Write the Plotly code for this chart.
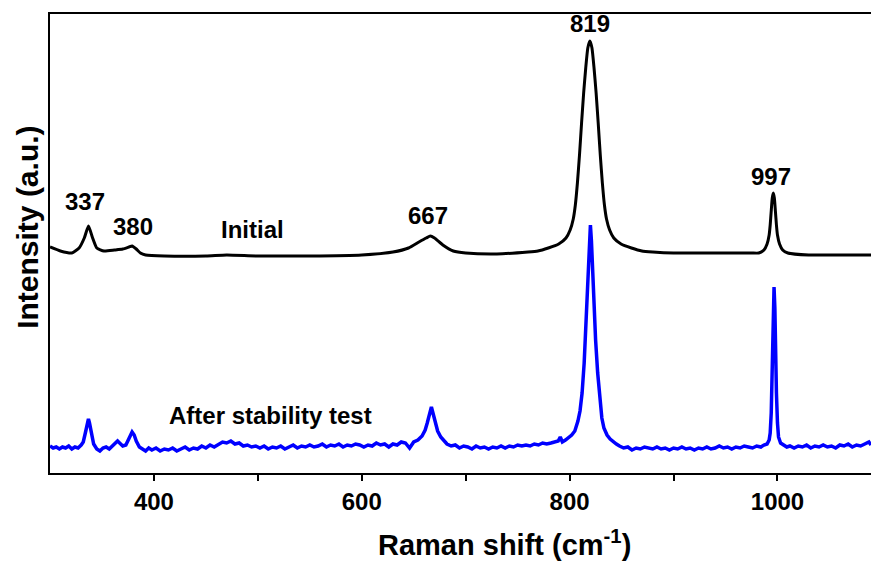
import plotly.graph_objects as go

# ---- Data (Raman shift in cm^-1, intensity in arbitrary units) ----
initial_x = [300, 310, 321, 328, 333, 337, 341, 345, 352, 362, 370, 376, 379, 383, 387, 392,
             410, 450, 470, 500, 550, 600, 630, 645, 655, 662, 666, 670, 678, 688, 700, 730,
             760, 769.5, 779.5, 789.5, 796.5, 800.5, 803.5, 805.5, 807.5, 809.5, 811.5,
             813.5, 815.5, 817.5, 819.5, 821.5, 823.5, 825.5, 827.5, 829.5, 831.5, 833.5,
             835.5, 838.5, 842.5, 849.5, 859.5, 869.5, 880, 900, 950, 975, 982, 987, 990,
             992, 993, 994, 995, 996, 997, 998, 999, 1000, 1002, 1005, 1010, 1030, 1060, 1090]
initial_y = [226, 222, 220, 225, 235, 247, 235, 225, 222, 223, 224, 226, 227, 224, 220, 218,
             217, 217, 218, 217, 217, 218, 221, 225, 231, 235, 237, 235, 228, 222, 220, 219,
             221, 222, 225, 229, 235, 243, 254, 268, 290, 318, 350,
             380, 405, 425, 432, 425, 405, 380, 350, 318, 290, 268,
             254, 243, 235, 229, 225, 222, 221, 220, 220, 220, 220, 223, 229,
             238, 248, 262, 275, 280, 275, 262, 248, 238, 229, 223, 220, 218, 218, 218]

after_x = [300, 303, 306, 309, 312, 315, 318, 321, 324, 327, 330, 332, 334, 336, 337, 338,
           340, 342, 345, 348, 351, 354, 357, 360, 363, 365, 367, 370, 373, 375, 377, 379,
           381, 383, 386, 389, 392, 395, 398, 402, 406, 410, 414, 418, 422, 426, 430, 434,
           438, 442, 446, 450, 454, 458, 462, 466, 470, 474, 478, 482, 486, 490, 494, 498,
           502, 506, 510, 514, 518, 522, 526, 530, 534, 538, 542, 546, 550, 554, 558, 562,
           566, 570, 574, 578, 582, 586, 590, 594, 598, 602, 606, 610, 614, 618, 622, 626,
           630, 634, 638, 642, 646, 650, 654, 658, 661, 663, 665, 667, 669, 671, 673, 676,
           679, 682, 686, 690, 694, 698, 702, 706, 710, 714, 718, 722, 726, 730, 734, 738,
           742, 746, 750, 754, 758, 762, 766, 770, 774, 778, 782, 786, 789, 791, 793, 796,
           799, 802, 805, 808, 810, 812, 814, 815, 816, 817, 818, 819, 820, 821, 822, 823,
           824, 825, 827, 829, 831, 833, 836, 839, 842, 845, 848, 852, 856, 860, 864, 868,
           872, 876, 880, 884, 888, 892, 896, 900, 904, 908, 912, 916, 920, 924, 928, 932,
           936, 940, 944, 948, 952, 956, 960, 964, 968, 972, 976, 980, 984, 987, 990, 992,
           993, 994, 995, 996, 996.7, 997.5, 998, 999, 1000, 1001, 1003, 1006, 1009, 1012,
           1016, 1020, 1024, 1028, 1032, 1036, 1040, 1044, 1048, 1052, 1056, 1060, 1064,
           1068, 1072, 1076, 1080, 1084, 1088, 1090]
after_y = [27, 25, 26, 24, 26, 25, 27, 24, 26, 25, 28, 31, 40, 51, 54, 50,
           38, 29, 24, 22, 25, 26, 24, 27, 29, 32, 30, 27, 28, 32, 37, 41,
           38, 32, 26, 24, 22, 25, 23, 25, 22, 24, 23, 25, 22, 24, 26, 23,
           25, 24, 27, 25, 28, 26, 29, 31, 30, 32, 29, 30, 27, 28, 26, 27,
           25, 27, 24, 26, 25, 27, 24, 26, 28, 25, 27, 26, 28, 26, 27, 29,
           26, 28, 27, 29, 26, 28, 27, 29, 28, 26, 28, 27, 30, 28, 29, 26,
           29, 28, 31, 30, 25, 31, 33, 37, 43, 50, 58, 66, 58, 49, 42, 36,
           32, 29, 27, 28, 25, 27, 26, 24, 27, 25, 26, 24, 26, 25, 27, 25,
           27, 26, 28, 27, 28, 27, 29, 28, 30, 29, 30, 31, 32, 36, 31, 33,
           35, 38, 42, 52, 62, 80, 110, 135, 160, 185, 210, 232, 248, 232, 205, 180,
           155, 133, 100, 75, 55, 45, 38, 34, 31, 29, 27, 25, 26, 23, 25, 24,
           26, 25, 24, 26, 24, 25, 23, 25, 24, 26, 24, 25, 23, 25, 24, 26,
           24, 25, 27, 25, 26, 24, 26, 25, 27, 26, 25, 27, 26, 28, 29, 33,
           40, 60, 110, 165, 186, 165, 125, 80, 50, 36, 30, 28, 26, 27,
           25, 27, 26, 28, 25, 27, 26, 28, 26, 27, 25, 28, 27,
           29, 26, 28, 27, 29, 31, 28]

# Peak labels
label_text = ["337", "380", "667", "819", "997"]
label_x = [334, 380, 664, 820, 994]
label_y = [272, 247, 258, 450, 297]

series_names = ["Initial", "After stability test"]
series_label_x = [495, 512]
series_label_y = [244, 58]

x_ticks = [400, 600, 800, 1000]

FONT = "Liberation Sans, Arial, sans-serif"

fig = go.Figure()
fig.add_trace(go.Scatter(x=initial_x, y=initial_y, mode="lines", name=series_names[0],
                         line=dict(color="black", width=3, shape="spline", smoothing=0.5)))
fig.add_trace(go.Scatter(x=after_x, y=after_y, mode="lines", name=series_names[1],
                         line=dict(color="#0000ff", width=3.5)))

for t, x, y in zip(label_text, label_x, label_y):
    fig.add_annotation(x=x, y=y, text=t, showarrow=False, xanchor="center", yanchor="middle",
                       font=dict(family=FONT, size=24, color="black", weight="bold"))
for t, x, y in zip(series_names, series_label_x, series_label_y):
    fig.add_annotation(x=x, y=y, text=t, showarrow=False, xanchor="center", yanchor="middle",
                       font=dict(family=FONT, size=24, color="black", weight="bold"))

# axis titles
fig.add_annotation(xref="paper", yref="paper", x=0.554, y=-0.1525, showarrow=False,
                   text="Raman shift (cm<sup>-1</sup>)", xanchor="center", yanchor="middle",
                   font=dict(family=FONT, size=29, color="black", weight="bold"))
fig.add_annotation(xref="paper", yref="paper", x=-0.027, y=0.536, showarrow=False,
                   text="Intensity (a.u.)", textangle=-90, xanchor="center", yanchor="middle",
                   font=dict(family=FONT, size=30, color="black", weight="bold"))

fig.update_layout(
    width=871, height=561,
    margin=dict(l=50, r=0, t=14, b=88),
    paper_bgcolor="white", plot_bgcolor="white",
    showlegend=False,
    xaxis=dict(range=[300, 1090], tickvals=x_ticks, ticks="outside", ticklen=6, tickwidth=1.5,
               tickcolor="black", showline=True, linecolor="black", linewidth=2, mirror=True,
               showgrid=False, zeroline=False,
               minor=dict(tickvals=[500, 700, 900], ticks="outside", ticklen=6, tickwidth=1.5,
                          tickcolor="black"),
               tickfont=dict(family=FONT, size=24, color="black", weight="bold")),
    yaxis=dict(range=[0, 459], showticklabels=False, ticks="", showline=True, linecolor="black",
               linewidth=2, mirror=False, showgrid=False, zeroline=False),
)

fig.write_html("out.html", config={"displayModeBar": False},
               post_script="document.body.style.margin='0';document.body.style.overflow='hidden';")
